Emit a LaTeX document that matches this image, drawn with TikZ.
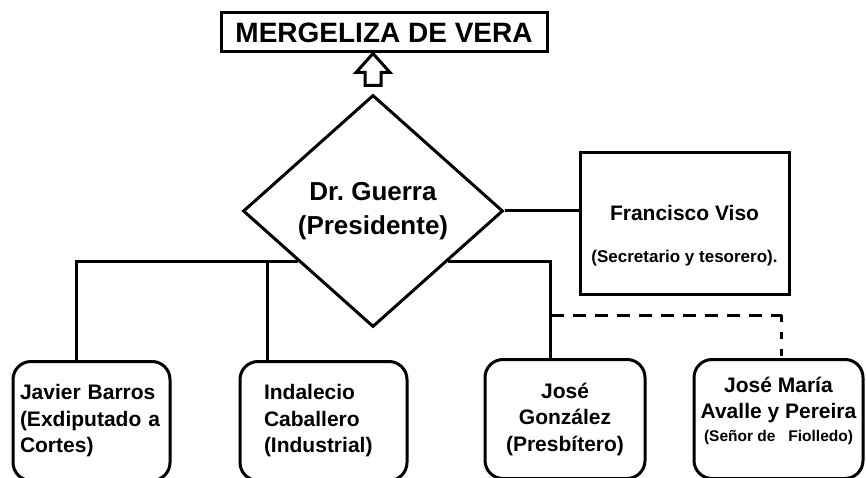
\documentclass[tikz,border=0pt]{standalone}
\usepackage{fontspec}
\setmainfont{Liberation Sans}
\usetikzlibrary{shapes.geometric,calc}
\frenchspacing

\begin{document}
\begin{tikzpicture}[x=1pt,y=-1pt,
    frame/.style={draw,line width=3pt},
    member/.style={frame,rounded corners=18pt,anchor=north,minimum height=119pt,
      inner xsep=7pt,inner ysep=0pt,font=\bfseries\fontsize{21}{26.5}\selectfont},
    link/.style={line width=3pt}]
    \clip (0,0) rectangle (866,478);
    \node[frame,minimum width=326pt,minimum height=39pt,inner sep=0pt,
      font=\bfseries\fontsize{28}{32}\selectfont] (vera) at (384,32.5) {MERGELIZA DE VERA};
    \node[frame,diamond,aspect=1.12,inner sep=0pt,minimum width=260pt,minimum height=232pt,
      align=center,font=\bfseries\fontsize{26}{34}\selectfont] (guerra) at (373,211)
      {Dr. Guerra\\(Presidente)};
    \node[frame,minimum width=209pt,minimum height=141pt,align=center,
      font=\bfseries\fontsize{21}{25}\selectfont] (viso) at (684.5,223.5)
      {\rule{0pt}{39pt}Francisco Viso\\[17pt]{\fontsize{17}{20}\selectfont (Secretario y tesorero).}};
    % open arrow up to the title
    \coordinate (tip) at (guerra.north |- vera.south);
    \filldraw[fill=white,line width=3pt] (tip) -- ++(-17,19) -- ++(9,0) -- ++(0,13)
      -- ++(16,0) -- ++(0,-13) -- ++(9,0) -- cycle;
    \node[member,minimum width=157pt,text width=143pt,align=left] (barros) at (91.5,360)
      {Javier Barros\\(Exdiputado a\\Cortes)};
    \node[member,minimum width=167pt,inner xsep=24pt,text width=119pt,align=left] (caballero) at (323.5,360)
      {Indalecio\\Caballero\\(Industrial)};
    \node[member,minimum width=160pt,align=center] (gonzalez) at (565,358)
      {José\\González\\(Presbítero)};
    \node[member,minimum width=169pt,inner xsep=2pt,align=center] (avalle) at (778.5,358)
      {José María\\Avalle y Pereira\\[-4pt]{\fontsize{15.5}{19}\selectfont (Señor de\ \ \ Fiolledo)}\rule[-20pt]{0pt}{1pt}};
    \coordinate (jl) at ($(guerra.west)!0.43!(guerra.south)$);
    \coordinate (jr) at ($(guerra.east)!0.43!(guerra.south)$);
    \coordinate (barrosin) at ($(barros.north west)+(65,0)$);
    \coordinate (caballeroin) at ($(caballero.north west)+(29,0)$);
    \coordinate (gonzalezin) at ($(gonzalez.north west)+(67,0)$);
    \coordinate (avallein) at ($(avalle.north west)+(89,0)$);
    \coordinate (split) at ($(gonzalezin)+(0,-43)$);
    \draw[link] (guerra.east) -- (guerra.east -| viso.west);
    \draw[link] (jl) -| (barrosin);
    \draw[link] (caballeroin) -- (caballeroin |- jl);
    \draw[link] (jr) -| (gonzalezin);
    \draw[link,dash pattern=on 13pt off 9pt] (split) -- (split -| avallein);
    \draw[link,dash pattern=on 7pt off 10pt] (split -| avallein) -- (avallein);
  \end{tikzpicture}
\end{document}
